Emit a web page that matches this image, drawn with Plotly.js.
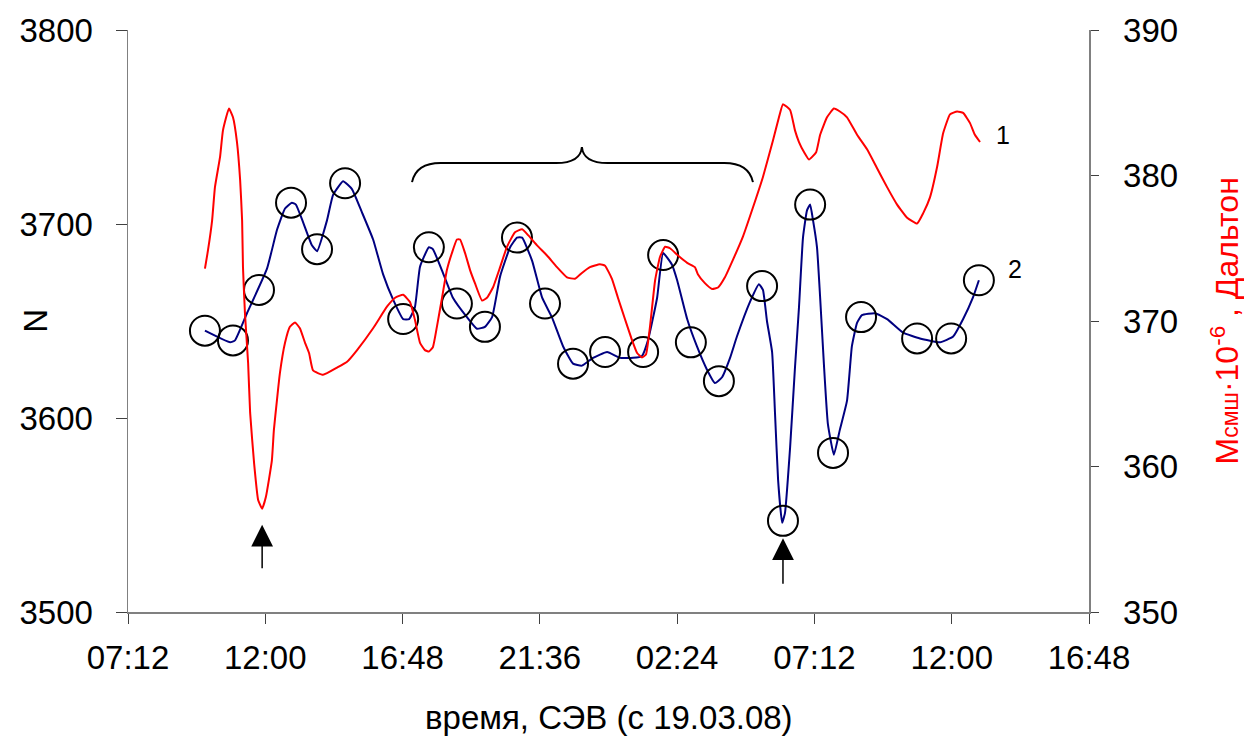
<!DOCTYPE html>
<html>
<head>
<meta charset="utf-8">
<script src="https://cdn.plot.ly/plotly-3.0.1.min.js"></script>
<style>html,body{margin:0;padding:0;background:#fff;}#chart{width:1244px;height:736px;}</style>
</head>
<body>
<div id="chart"></div>
<script>
// time in hours from 00:00 of 19.03.08
const tickHours = [7.2, 12, 16.8, 21.6, 26.4, 31.2, 36, 40.8];
const tickLabels = ["07:12", "12:00", "16:48", "21:36", "02:24", "07:12", "12:00", "16:48"];
const leftTicks = [3500, 3600, 3700, 3800];
const rightTicks = [350, 360, 370, 380, 390];

// curve 2: N (blue line)
const blueLineHours = [9.89,10.77,10.94,11.36,12.06,12.41,12.69,12.93,13.07,13.32,13.63,13.81,14.16,14.37,14.72,15.03,15.38,15.77,16.12,16.47,16.82,17.03,17.23,17.41,17.72,17.86,18.18,18.56,19.05,19.40,19.68,19.93,20.21,20.56,20.80,20.98,21.33,21.68,22.02,22.41,22.76,23.07,23.46,23.95,24.40,24.86,25.17,25.38,25.70,25.91,26.22,26.40,26.75,27.09,27.44,27.72,27.97,28.25,28.49,28.95,29.26,29.40,29.54,29.72,29.82,29.93,30.07,30.17,30.35,30.52,30.66,30.80,30.94,31.05,31.15,31.29,31.40,31.53,31.67,31.88,32.09,32.34,32.51,32.69,32.86,33.32,33.74,34.30,34.89,35.59,36.05,36.40,36.74,36.95];
const blueLineN = [3645,3639,3640,3654,3677,3697,3708,3711,3710,3701,3689,3686,3702,3715,3722,3718,3706,3692,3674,3661,3651,3651,3657,3678,3688,3687,3676,3662,3652,3646,3647,3652,3673,3688,3693,3693,3681,3662,3652,3637,3628,3627,3631,3634,3631,3631,3632,3640,3662,3685,3679,3671,3651,3637,3625,3618,3621,3631,3642,3660,3669,3666,3650,3634,3603,3568,3546,3551,3585,3626,3657,3693,3707,3710,3702,3688,3662,3628,3597,3581,3594,3609,3637,3649,3653,3654,3651,3644,3641,3639,3642,3651,3662,3671];

// measured points (circles)
const circleHours = [9.89,10.87,11.78,12.90,13.81,14.79,16.82,17.72,18.70,19.68,20.80,21.78,22.76,23.88,25.21,25.91,26.88,27.86,29.37,30.10,31.05,31.85,32.83,34.79,35.98,36.95];
const circleN = [3645,3640,3666,3711,3687,3721,3651,3688,3659,3647,3693,3659,3628,3634,3634,3684,3639,3619,3668,3547,3710,3582,3652,3641,3641,3671];

// curve 1: M (red line, right axis)
const redHours = [9.89,10.00,10.14,10.24,10.42,10.52,10.73,10.87,11.01,11.12,11.19,11.22,11.29,11.40,11.47,11.61,11.75,11.89,12.02,12.23,12.30,12.41,12.51,12.69,12.86,13.04,13.21,13.39,13.53,13.67,14.02,14.51,14.86,15.21,15.77,16.26,16.54,16.82,17.06,17.23,17.41,17.58,17.72,17.86,18.00,18.18,18.35,18.53,18.70,18.81,18.98,19.16,19.33,19.58,19.75,19.96,20.21,20.45,20.73,20.98,21.19,21.50,21.85,22.20,22.55,22.83,23.07,23.35,23.70,23.88,24.12,24.33,24.58,24.82,25.00,25.17,25.31,25.45,25.63,25.80,25.98,26.15,26.43,26.75,27.02,27.13,27.37,27.62,27.83,28.07,28.35,28.70,29.05,29.40,29.75,29.96,30.10,30.35,30.52,30.66,30.84,31.01,31.26,31.40,31.64,31.88,32.09,32.34,32.69,33.04,33.39,33.74,34.09,34.44,34.79,35.00,35.24,35.49,35.70,35.94,36.19,36.40,36.64,36.81,36.99];
const redM = [373.6,374.9,376.9,379.2,381.3,383.1,384.6,384.0,382.3,379.7,376.9,373.7,370.5,367.1,363.7,360.2,357.7,357.1,357.9,360.4,362.5,364.6,366.4,368.5,369.6,369.9,369.5,368.5,367.8,366.6,366.3,366.8,367.2,368.0,369.5,371.0,371.6,371.8,371.3,370.1,368.5,368.0,367.9,368.2,369.6,371.6,373.5,374.7,375.6,375.6,374.7,373.5,372.6,371.4,371.6,372.3,373.7,375.1,376.1,376.3,375.9,375.2,374.5,373.7,373.0,372.9,373.3,373.7,373.9,373.8,372.9,371.6,370.1,368.7,367.8,367.5,367.7,369.6,372.8,374.4,375.1,375.0,374.5,374.0,373.7,373.2,372.6,372.2,372.3,373.0,374.2,375.8,377.8,379.9,382.4,384.0,384.9,384.5,383.1,382.3,381.6,381.1,381.6,382.8,384.0,384.6,384.4,384.0,382.8,381.8,380.5,379.2,378.0,377.1,376.7,377.4,378.5,380.6,382.9,384.2,384.4,384.3,383.6,382.8,382.3];

// arrows (events) and curve labels
const arrowHours = [11.89, 30.10];
const arrowTipN = [3545, 3538];
const curveLabels = ["1", "2"];

const FONT = "Arial, 'Liberation Sans', sans-serif";

const traces = [
  {x: blueLineHours, y: blueLineN, type: 'scatter', mode: 'lines',
   line: {color: '#000080', width: 2, shape: 'spline', smoothing: 0.4}, yaxis: 'y', hoverinfo: 'skip'},
  {x: circleHours, y: circleN, type: 'scatter', mode: 'markers',
   marker: {symbol: 'circle-open', size: 30, color: '#000000', line: {width: 2, color: '#000000'}}, yaxis: 'y'},
  {x: redHours, y: redM, type: 'scatter', mode: 'lines',
   line: {color: '#ff0000', width: 2, shape: 'spline', smoothing: 0.4}, yaxis: 'y2', hoverinfo: 'skip'}
];

const axisCommon = {
  showgrid: false, zeroline: false, showline: true, linecolor: '#808080', linewidth: 1.5,
  ticks: 'outside', tickcolor: '#404040', tickwidth: 1,
  tickfont: {family: FONT, size: 33, color: '#000'}
};

const annotations = [
  {xref: 'paper', yref: 'paper', x: -0.097, y: 0.5, text: 'N', showarrow: false, textangle: -90,
   font: {family: FONT, size: 33, color: '#000'}, xanchor: 'center', yanchor: 'middle'},
  {xref: 'paper', yref: 'paper', x: 1.141, y: 0.5, textangle: -90, showarrow: false,
   text: 'М<span style="font-size:23px">смш</span>·10<sup>-6</sup> , Дальтон',
   font: {family: FONT, size: 32, color: '#ff0000'}, xanchor: 'center', yanchor: 'middle'},
  {xref: 'paper', yref: 'paper', x: 0.5, y: -0.182, text: 'время, СЭВ (с 19.03.08)', showarrow: false,
   font: {family: FONT, size: 33, color: '#000'}, xanchor: 'center', yanchor: 'middle'},
  {xref: 'x', yref: 'y2', x: 37.79, y: 382.8, text: curveLabels[0], showarrow: false,
   font: {family: FONT, size: 25, color: '#000'}},
  {xref: 'x', yref: 'y', x: 38.21, y: 3677, text: curveLabels[1], showarrow: false,
   font: {family: FONT, size: 25, color: '#000'}}
];
arrowHours.forEach((h, i) => {
  annotations.push({xref: 'x', yref: 'y', x: h, y: arrowTipN[i], text: '', showarrow: true,
    ax: 0, ay: i === 0 ? 45 : 47, arrowhead: 2, arrowsize: 2.9, arrowwidth: 1.5, arrowcolor: '#000', standoff: 0});
});

// curly brace over the quiet interval
const br = {x0: 17.13, x1: 29.05, xm: 23.07, yEnd: 3721.6, yMid: 3731.4, yTip: 3739.7};
const bracePath = `M ${br.x0},${br.yEnd} Q ${br.x0 + 0.15},${br.yMid} ${br.x0 + 1.0},${br.yMid} L ${br.xm - 0.9},${br.yMid} Q ${br.xm - 0.05},${br.yMid} ${br.xm},${br.yTip} Q ${br.xm + 0.05},${br.yMid} ${br.xm + 0.9},${br.yMid} L ${br.x1 - 1.0},${br.yMid} Q ${br.x1 - 0.15},${br.yMid} ${br.x1},${br.yEnd}`;

const layout = {
  width: 1244, height: 736,
  margin: {l: 128, r: 155, t: 30, b: 124},
  paper_bgcolor: '#fff', plot_bgcolor: '#fff',
  showlegend: false,
  font: {family: FONT, color: '#000'},
  xaxis: Object.assign({}, axisCommon, {range: [7.2, 40.8], tickvals: tickHours, ticktext: tickLabels,
    ticklen: 10, ticklabelstandoff: 6}),
  yaxis: Object.assign({}, axisCommon, {range: [3500, 3800], tickvals: leftTicks, ticklen: 11, ticklabelstandoff: 16}),
  yaxis2: Object.assign({}, axisCommon, {range: [350, 390], tickvals: rightTicks, overlaying: 'y', side: 'right',
    anchor: 'x', ticklen: 8, ticklabelstandoff: 18}),
  annotations: annotations,
  shapes: [{type: 'path', xref: 'x', yref: 'y', path: bracePath, line: {color: '#000', width: 2}}]
};

Plotly.newPlot('chart', traces, layout, {staticPlot: true});
</script>
</body>
</html>
